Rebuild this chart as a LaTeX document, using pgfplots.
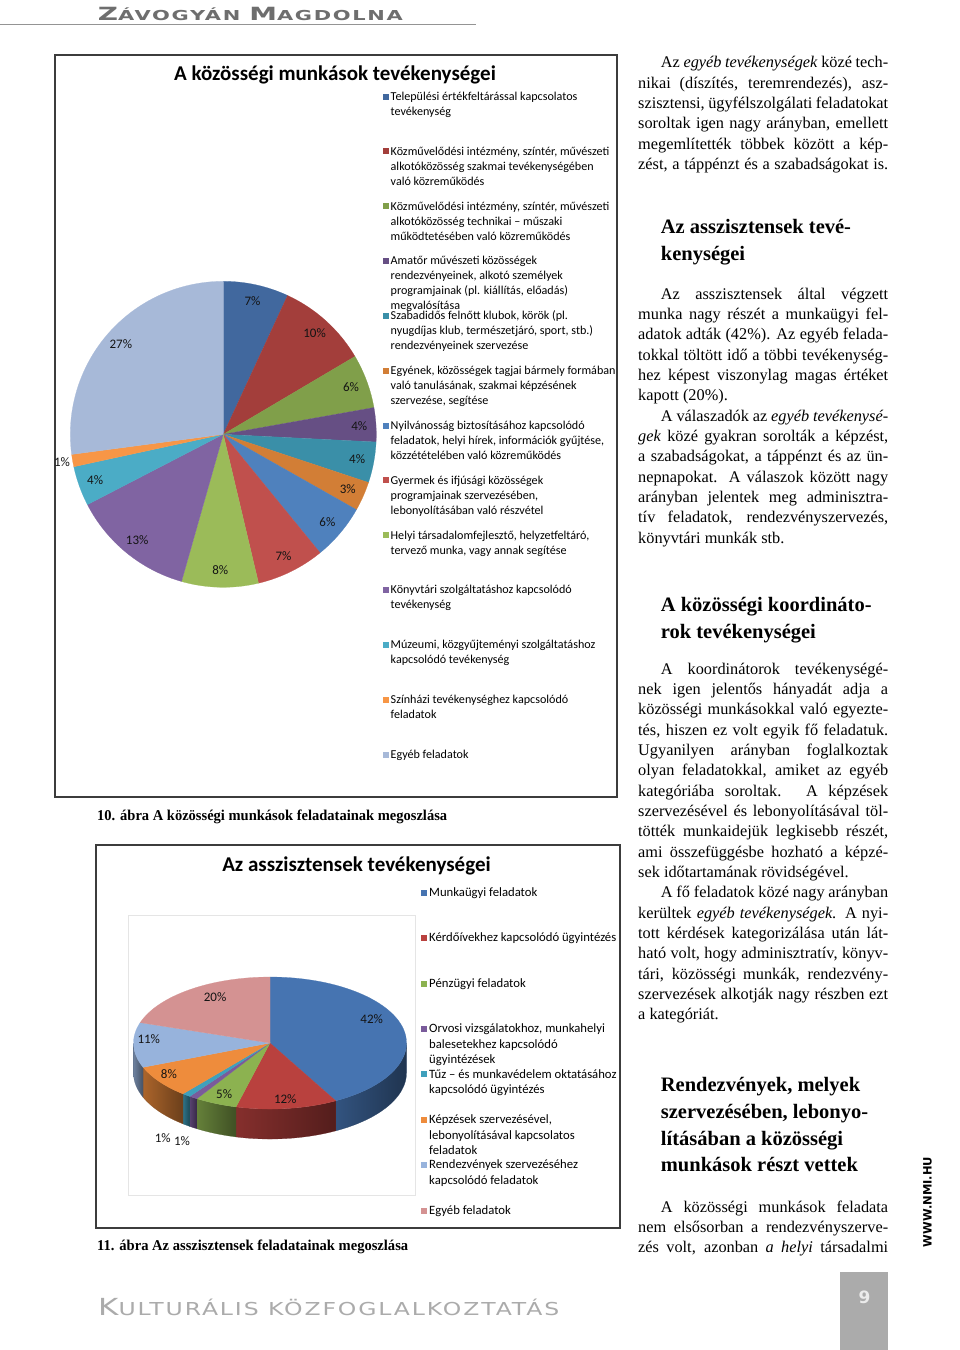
\documentclass[border=0pt]{standalone}
\usepackage{pgfplots}
\pgfplotsset{compat=1.18}
\usepackage{pgfplotstable}
\usepackage{graphicx}
\usepackage{fontspec}
\setmainfont{Liberation Serif}
\newfontfamily\calfont{Carlito}
\newfontfamily\hdr[LetterSpace=8]{DejaVu Sans}
\newfontfamily\wsans{DejaVu Sans}

\definecolor{pA}{HTML}{41689E}
\definecolor{pB}{HTML}{A33E3B}
\definecolor{pC}{HTML}{809F4A}
\definecolor{pD}{HTML}{664F84}
\definecolor{pE}{HTML}{3A8FA8}
\definecolor{pF}{HTML}{D27E36}
\definecolor{pG}{HTML}{4F81BD}
\definecolor{pH}{HTML}{C0504D}
\definecolor{pI}{HTML}{9BBB59}
\definecolor{pJ}{HTML}{8064A2}
\definecolor{pK}{HTML}{4BACC6}
\definecolor{pL}{HTML}{F79646}
\definecolor{pM}{HTML}{A7B9D8}
\definecolor{qA}{HTML}{4674B1}
\definecolor{qB}{HTML}{B9413E}
\definecolor{qC}{HTML}{8CB250}
\definecolor{qD}{HTML}{7A5B9B}
\definecolor{qE}{HTML}{3FA0BC}
\definecolor{qF}{HTML}{EE8C3C}
\definecolor{qG}{HTML}{97B3DC}
\definecolor{qH}{HTML}{D49292}
\definecolor{hdrgray}{HTML}{6E6E6E}
\definecolor{ftgray}{HTML}{ABABAB}
\definecolor{frame}{HTML}{3C3C3C}

% pie 1: share (%), label, label radius, colour
\pgfplotstableread{
val  lab r    col
6.9  7   0.89 pA
9.6  10  0.89 pB
5.7  6   0.89 pC
3.6  4   0.89 pD
4.3  4   0.89 pE
3.1  3   0.89 pF
5.9  6   0.89 pG
7.2  7   0.89 pH
8.1  8   0.89 pI
13.0 13  0.89 pJ
4.2  4   0.89 pK
1.3  1   1.07 pL
27.1 27  0.89 pM
}\pieone

% pie 2: share (%), label, label position (axis units), colour
\pgfplotstableread{
val lab lx     ly     col
42  42  0.745  0.365  qA
12  12  0.112  -0.851 qB
5   5   -0.336 -0.774 qC
1   1   -0.645 -1.482 qD
1   1   -0.785 -1.435 qE
8   8   -0.741 -0.466 qF
11  11  -0.888 0.057  qG
20  20  -0.402 0.688  qH
}\pietwo

\newcommand\body{\fontsize{16.3}{20}\selectfont}
\newcommand\head{\fontsize{20.5}{26}\selectfont\bfseries}
\newcommand\JL[2]{\node[anchor=base west,inner sep=0,font=\body] at (638,#1) {\makebox[250pt][s]{#2}};}
\newcommand\JI[2]{\node[anchor=base west,inner sep=0,font=\body] at (660.7,#1) {\makebox[227.3pt][s]{#2}};}
\newcommand\LL[2]{\node[anchor=base west,inner sep=0,font=\body] at (638,#1) {#2};}
\newcommand\HL[2]{\node[anchor=base west,inner sep=0,font=\head] at (660.7,#1) {#2};}

\newcommand\legfont{\calfont\fontsize{12.1}{14}\selectfont}
% #1 colour, #2 square x, #3 text x, #4 first baseline, #5 line step, #6 lines
\newcommand\legent[6]{%
  \fill[#1] (#2,#4-6.8) rectangle ++(6,6);
  \foreach \t [count=\i from 0] in {#6}{
    \node[anchor=base west, inner sep=0, font=\legfont] at (#3,{#4+\i*#5}) {\t};
  }
}

\tikzset{pielab/.style={font=\calfont\fontsize{13}{14}\selectfont, text=black!92, inner sep=0}}

\begin{document}
\begin{tikzpicture}[x=1pt,y=-1pt]
\fill[white] (0,0) rectangle (960,1350);
\path[use as bounding box] (0,0) rectangle (960,1350);

% ---------- header ----------
\draw[black!42, line width=1.4pt] (0,24.3) -- (476,24.3);
\node[anchor=base west, inner sep=0, text=hdrgray] at (97.7,20)
  {\resizebox{305pt}{\height}{\hdr\bfseries\fontsize{18.2}{20}\selectfont Z\fontsize{13.7}{16}\selectfont ÁVOGYÁN \fontsize{18.2}{20}\selectfont M\fontsize{13.7}{16}\selectfont AGDOLNA}};

% ---------- chart 1 ----------
\draw[frame, line width=1.3pt] (55,55) rectangle (617,797);
\node[anchor=base, inner sep=0, font=\calfont\bfseries\fontsize{21}{24}\selectfont] at (335,80) {A közösségi munkások tevékenységei};

\begin{axis}[at={(223.3pt,-434.3pt)}, anchor=origin, x=153pt, y=153pt, hide axis, clip=false,
  xmin=-1, xmax=1, ymin=-1, ymax=1]
\def\acc{0}
\pgfplotsforeachungrouped \i in {0,...,12}{%
  \pgfplotstablegetelem{\i}{val}\of\pieone \let\pv\pgfplotsretval
  \pgfplotstablegetelem{\i}{lab}\of\pieone \let\pl\pgfplotsretval
  \pgfplotstablegetelem{\i}{r}\of\pieone \let\pr\pgfplotsretval
  \pgfplotstablegetelem{\i}{col}\of\pieone \let\pc\pgfplotsretval
  \pgfmathsetmacro\aS{90-3.6*\acc}%
  \pgfmathsetmacro\aE{90-3.6*(\acc+\pv)}%
  \pgfmathsetmacro\aM{(\aS+\aE)/2}%
  \pgfmathsetmacro\xS{cos(\aS)}%
  \pgfmathsetmacro\yS{sin(\aS)}%
  \pgfmathsetmacro\lx{\pr*cos(\aM)}%
  \pgfmathsetmacro\ly{\pr*sin(\aM)}%
  \edef\tmp{\noexpand\addplot[fill=\pc, draw=\pc, line width=0.2pt, mark=none, forget plot]
     coordinates {(0,0) (\xS,\yS)} arc[start angle=\aS, end angle=\aE, radius=153pt] -- cycle;
     \noexpand\node[pielab] at (axis cs:\lx,\ly) {\pl\noexpand\%};}%
  \tmp
  \pgfmathsetmacro\acc{\acc+\pv}%
}
\end{axis}

\legent{pA}{382.5}{390.5}{100.3}{15}{{Települési értékfeltárással kapcsolatos},{tevékenység}}
\legent{pB}{382.5}{390.5}{155.15}{15}{{Közművelődési intézmény, színtér, művészeti},{alkotóközösség szakmai tevékenységében},{való közreműködés}}
\legent{pC}{382.5}{390.5}{210.0}{15}{{Közművelődési intézmény, színtér, művészeti},{alkotóközösség technikai – műszaki},{működtetésében való közreműködés}}
\legent{pD}{382.5}{390.5}{264.85}{15}{{Amatőr művészeti közösségek},{rendezvényeinek, alkotó személyek},{programjainak (pl. kiállítás, előadás)},{megvalósítása}}
\legent{pE}{382.5}{390.5}{319.7}{15}{{Szabadidős felnőtt klubok, körök (pl.},{nyugdíjas klub, természetjáró, sport, stb.)},{rendezvényeinek szervezése}}
\legent{pF}{382.5}{390.5}{374.55}{15}{{Egyének, közösségek tagjai bármely formában},{való tanulásának, szakmai képzésének},{szervezése, segítése}}
\legent{pG}{382.5}{390.5}{429.4}{15}{{Nyilvánosság biztosításához kapcsolódó},{feladatok, helyi hírek, információk gyűjtése,},{közzétételében való közreműködés}}
\legent{pH}{382.5}{390.5}{484.25}{15}{{Gyermek és ifjúsági közösségek},{programjainak szervezésében,},{lebonyolításában való részvétel}}
\legent{pI}{382.5}{390.5}{539.1}{15}{{Helyi társadalomfejlesztő, helyzetfeltáró,},{tervező munka, vagy annak segítése}}
\legent{pJ}{382.5}{390.5}{593.95}{15}{{Könyvtári szolgáltatáshoz kapcsolódó},{tevékenység}}
\legent{pK}{382.5}{390.5}{648.8}{15}{{Múzeumi, közgyűjteményi szolgáltatáshoz},{kapcsolódó tevékenység}}
\legent{pL}{382.5}{390.5}{703.65}{15}{{Színházi tevékenységhez kapcsolódó},{feladatok}}
\legent{pM}{382.5}{390.5}{758.5}{15}{{Egyéb feladatok}}

\node[anchor=base west, inner sep=0] at (97,820)
  {\resizebox{350pt}{\height}{\fontsize{15}{17}\selectfont\bfseries 10. ábra A közösségi munkások feladatainak megoszlása}};

% ---------- chart 2 ----------
\draw[frame, line width=1.3pt] (96,845) rectangle (620,1228);
\node[anchor=base, inner sep=0, font=\calfont\bfseries\fontsize{21}{24}\selectfont] at (356.5,871) {Az asszisztensek tevékenységei};
\draw[black!10, line width=0.6pt] (128,915) rectangle (415,1195);

\begin{axis}[at={(270pt,-1043pt)}, anchor=origin, x=136.5pt, y=66pt, hide axis, clip=false,
  xmin=-1, xmax=1, ymin=-1, ymax=1]
% side walls of the front half
\def\acc{0}
\pgfplotsforeachungrouped \i in {0,...,7}{%
  \pgfplotstablegetelem{\i}{val}\of\pietwo \let\pv\pgfplotsretval
  \pgfplotstablegetelem{\i}{col}\of\pietwo \let\pc\pgfplotsretval
  \pgfmathsetmacro\aS{90-3.6*\acc}%
  \pgfmathsetmacro\aE{90-3.6*(\acc+\pv)}%
  \pgfmathsetmacro\vS{min(\aS,0)}%
  \pgfmathsetmacro\vE{max(\aE,-180)}%
  \ifdim\vS pt>\vE pt
    \pgfmathsetmacro\xS{cos(\vS)}%
    \pgfmathsetmacro\yS{sin(\vS)}%
    \edef\tmp{\noexpand\addplot[left color=\pc!72!black, right color=\pc!45!black, draw=\pc!55!black, line width=0.2pt, mark=none, forget plot]
      coordinates {(\xS,\yS)} arc[start angle=\vS, end angle=\vE, x radius=136.5pt, y radius=66pt]
      -- ++(0pt,-30pt) arc[start angle=\vE, end angle=\vS, x radius=136.5pt, y radius=66pt] -- cycle;}%
    \tmp
  \fi
  \pgfmathsetmacro\acc{\acc+\pv}%
}
% top faces
\def\acc{0}
\pgfplotsforeachungrouped \i in {0,...,7}{%
  \pgfplotstablegetelem{\i}{val}\of\pietwo \let\pv\pgfplotsretval
  \pgfplotstablegetelem{\i}{lab}\of\pietwo \let\pl\pgfplotsretval
  \pgfplotstablegetelem{\i}{lx}\of\pietwo \let\lx\pgfplotsretval
  \pgfplotstablegetelem{\i}{ly}\of\pietwo \let\ly\pgfplotsretval
  \pgfplotstablegetelem{\i}{col}\of\pietwo \let\pc\pgfplotsretval
  \pgfmathsetmacro\aS{90-3.6*\acc}%
  \pgfmathsetmacro\aE{90-3.6*(\acc+\pv)}%
  \pgfmathsetmacro\xS{cos(\aS)}%
  \pgfmathsetmacro\yS{sin(\aS)}%
  \edef\tmp{\noexpand\addplot[fill=\pc, draw=\pc, line width=0.2pt, mark=none, forget plot]
     coordinates {(0,0) (\xS,\yS)} arc[start angle=\aS, end angle=\aE, x radius=136.5pt, y radius=66pt] -- cycle;
     \noexpand\node[pielab] at (axis cs:\lx,\ly) {\pl\noexpand\%};}%
  \tmp
  \pgfmathsetmacro\acc{\acc+\pv}%
}
\end{axis}

\def\legfont{\calfont\fontsize{12.7}{14}\selectfont}
\legent{qA}{421}{429}{896.5}{15.5}{{Munkaügyi feladatok}}
\legent{qB}{421}{429}{941.9}{15.5}{{Kérdőívekhez kapcsolódó ügyintézés}}
\legent{qC}{421}{429}{987.3}{15.5}{{Pénzügyi feladatok}}
\legent{qD}{421}{429}{1032.7}{15.5}{{Orvosi vizsgálatokhoz, munkahelyi},{balesetekhez kapcsolódó},{ügyintézések}}
\legent{qE}{421}{429}{1078.1}{15.5}{{Tűz – és munkavédelem oktatásához},{kapcsolódó ügyintézés}}
\legent{qF}{421}{429}{1123.5}{15.5}{{Képzések szervezésével,},{lebonyolításával kapcsolatos},{feladatok}}
\legent{qG}{421}{429}{1168.9}{15.5}{{Rendezvények szervezéséhez},{kapcsolódó feladatok}}
\legent{qH}{421}{429}{1214.3}{15.5}{{Egyéb feladatok}}

\node[anchor=base west, inner sep=0] at (97,1250)
  {\resizebox{311pt}{\height}{\fontsize{15}{17}\selectfont\bfseries 11. ábra Az asszisztensek feladatainak megoszlása}};

% ---------- right column ----------
\JI{67.7}{Az \textit{egyéb tevékenységek} közé tech-}
\JL{88.0}{nikai (díszítés, teremrendezés), asz-}
\JL{108.4}{szisztensi, ügyfélszolgálati feladatokat}
\JL{128.7}{soroltak igen nagy arányban, emellett}
\JL{149.0}{megemlítették többek között a kép-}
\JL{169.4}{zést, a táppénzt és a szabadságokat is.}

\HL{233.3}{Az asszisztensek tevé-}
\HL{260.0}{kenységei}

\JI{299.0}{Az asszisztensek által végzett}
\JL{319.3}{munka nagy részét a munkaügyi fel-}
\JL{339.7}{adatok adták (42\%). Az egyéb felada-}
\JL{360.0}{tokkal töltött idő a többi tevékenység-}
\JL{380.3}{hez képest viszonylag magas értéket}
\LL{400.7}{kapott (20\%).}
\JI{421.0}{A válaszadók az \textit{egyéb tevékenysé-}}
\JL{441.3}{\textit{gek} közé gyakran sorolták a képzést,}
\JL{461.6}{a szabadságokat, a táppénzt és az ün-}
\JL{482.0}{nepnapokat. A válaszok között nagy}
\JL{502.3}{arányban jelentek meg adminisztra-}
\JL{522.6}{tív feladatok, rendezvényszervezés,}
\LL{543.0}{könyvtári munkák stb.}

\HL{611.7}{A közösségi koordináto-}
\HL{638.3}{rok tevékenységei}

\JI{674.0}{A koordinátorok tevékenységé-}
\JL{694.3}{nek igen jelentős hányadát adja a}
\JL{714.6}{közösségi munkásokkal való egyezte-}
\JL{735.0}{tés, hiszen ez volt egyik fő feladatuk.}
\JL{755.3}{Ugyanilyen arányban foglalkoztak}
\JL{775.6}{olyan feladatokkal, amiket az egyéb}
\JL{796.0}{kategóriába soroltak. A képzések}
\JL{816.3}{szervezésével és lebonyolításával töl-}
\JL{836.6}{tötték munkaidejük legkisebb részét,}
\JL{857.0}{ami összefüggésbe hozható a képzé-}
\LL{877.3}{sek időtartamának rövidségével.}
\JI{897.6}{A fő feladatok közé nagy arányban}
\JL{918.0}{kerültek \textit{egyéb tevékenységek}. A nyi-}
\JL{938.3}{tott kérdések kategorizálása után lát-}
\JL{958.6}{ható volt, hogy adminisztratív, könyv-}
\JL{979.0}{tári, közösségi munkák, rendezvény-}
\JL{999.3}{szervezések alkotják nagy részben ezt}
\LL{1019.6}{a kategóriát.}

\HL{1091.7}{Rendezvények, melyek}
\HL{1118.4}{szervezésében, lebonyo-}
\HL{1145.0}{lításában a közösségi}
\HL{1171.7}{munkások részt vettek}

\JI{1212.0}{A közösségi munkások feladata}
\JL{1232.3}{nem elsősorban a rendezvényszerve-}
\JL{1252.7}{zés volt, azonban \textit{a helyi} társadalmi}

% ---------- side / footer ----------
\node[rotate=90, inner sep=0, anchor=center] at (927.5,1202)
  {\resizebox{90pt}{\height}{\wsans\bfseries\fontsize{11.5}{12}\selectfont WWW.NMI.HU}};
\node[anchor=base west, inner sep=0, text=ftgray] at (98,1315)
  {\resizebox{461pt}{\height}{\hdr\fontsize{23.5}{26}\selectfont K\fontsize{17.8}{20}\selectfont ULTURÁLIS KÖZFOGLALKOZTATÁS}};
\fill[ftgray] (840,1272) rectangle (888,1350);
\node[inner sep=0, text=white!92!black, font=\hdr\bfseries\fontsize{17}{18}\selectfont] at (864.5,1297) {9};
\end{tikzpicture}
\end{document}
